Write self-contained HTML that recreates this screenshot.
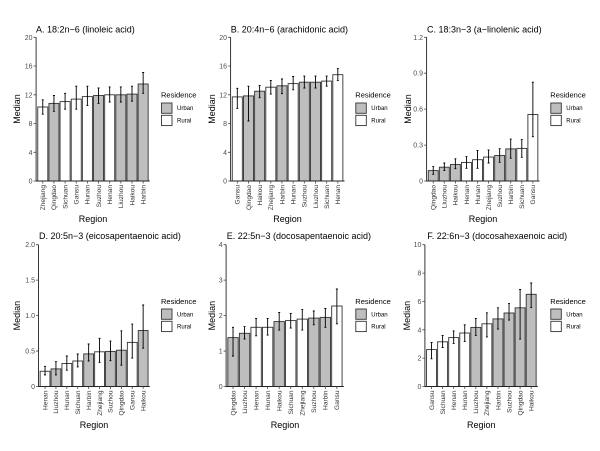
<!DOCTYPE html>
<html><head><meta charset="utf-8"><style>
html,body{margin:0;padding:0;background:#fff}
svg{display:block}
text{font-family:"Liberation Sans",sans-serif}
.t{font-size:9px;fill:#000}
.at{font-size:9px;fill:#000;text-anchor:middle}
.yl{font-size:7px;fill:#4d4d4d;text-anchor:end}
.xl{font-size:6.6px;fill:#333;text-anchor:end}
.lg{font-size:7.5px;fill:#000}
.lk{font-size:6px;fill:#000}
.u{fill:#bebebe;stroke:#333;stroke-width:0.9}
.r{fill:#fff;stroke:#333;stroke-width:0.9}
.e{fill:none;stroke:#000;stroke-width:0.9}
.ax{fill:none;stroke:#222;stroke-width:0.9}
.tk{fill:none;stroke:#444;stroke-width:0.8}
</style></head><body>
<svg width="600" height="451" viewBox="0 0 600 451" xmlns="http://www.w3.org/2000/svg">
<rect width="600" height="451" fill="#fff"/>

<!-- Panel A -->
<text class="t" x="36" y="32.5">A. 18:2n−6 (linoleic acid)</text>
<rect x="37.77" y="107" width="10.04" height="74" class="r"/>
<rect x="48.92" y="103.4" width="10.04" height="77.6" class="u"/>
<rect x="60.07" y="101.6" width="10.04" height="79.4" class="r"/>
<rect x="71.22" y="99.1" width="10.04" height="81.9" class="r"/>
<rect x="82.37" y="96.6" width="10.04" height="84.4" class="r"/>
<rect x="93.52" y="95.5" width="10.04" height="85.5" class="u"/>
<rect x="104.67" y="94.8" width="10.04" height="86.2" class="r"/>
<rect x="115.82" y="94.8" width="10.04" height="86.2" class="u"/>
<rect x="126.97" y="94.1" width="10.04" height="86.9" class="u"/>
<rect x="138.12" y="84" width="10.04" height="97" class="u"/>
<path class="e" d="M42.79 114.2V99.8M41.79 99.8h2M41.79 114.2h2M53.94 111.3V95.5M52.94 95.5h2M52.94 111.3h2M65.09 109.15V93.3M64.09 93.3h2M64.09 109.15h2M76.24 109.15V86.2M75.24 86.2h2M75.24 109.15h2M87.39 105.6V86.2M86.39 86.2h2M86.39 105.6h2M98.54 103.4V88M97.54 88h2M97.54 103.4h2M109.69 102V86.9M108.69 86.9h2M108.69 102h2M120.84 102V86.9M119.84 86.9h2M119.84 102h2M131.99 101.2V86.2M130.99 86.2h2M130.99 101.2h2M143.14 93.3V72.5M142.14 72.5h2M142.14 93.3h2"/>
<path class="ax" d="M36.1 37.3V181H149.8"/>
<path class="tk" d="M33.6 181H36.1M33.6 152.3H36.1M33.6 123.5H36.1M33.6 94.8H36.1M33.6 66H36.1M33.6 37.3H36.1M42.79 181v2.5M53.94 181v2.5M65.09 181v2.5M76.24 181v2.5M87.39 181v2.5M98.54 181v2.5M109.69 181v2.5M120.84 181v2.5M131.99 181v2.5M143.14 181v2.5"/>
<text class="yl" x="32.5" y="183.5">0</text><text class="yl" x="32.5" y="154.8">4</text><text class="yl" x="32.5" y="126">8</text><text class="yl" x="32.5" y="97.3">12</text><text class="yl" x="32.5" y="68.5">16</text><text class="yl" x="32.5" y="39.8">20</text>
<text class="xl" transform="translate(45.09,185) rotate(-90)">Zhejiang</text>
<text class="xl" transform="translate(56.24,185) rotate(-90)">Qingdao</text>
<text class="xl" transform="translate(67.39,185) rotate(-90)">Sichuan</text>
<text class="xl" transform="translate(78.54,185) rotate(-90)">Gansu</text>
<text class="xl" transform="translate(89.69,185) rotate(-90)">Hunan</text>
<text class="xl" transform="translate(100.84,185) rotate(-90)">Suzhou</text>
<text class="xl" transform="translate(111.99,185) rotate(-90)">Henan</text>
<text class="xl" transform="translate(123.14,185) rotate(-90)">Liuzhou</text>
<text class="xl" transform="translate(134.29,185) rotate(-90)">Haikou</text>
<text class="xl" transform="translate(145.44,185) rotate(-90)">Harbin</text>
<text class="at" transform="translate(20,109) rotate(-90)">Median</text>
<text class="at" x="93" y="222">Region</text>
<text class="lg" x="161" y="97.7">Residence</text>
<rect x="161.5" y="103" width="10.5" height="10.3" class="u"/>
<rect x="161.5" y="115.3" width="10.5" height="10.3" class="r"/>
<text class="lk" x="177" y="110.2">Urban</text>
<text class="lk" x="177" y="122.6">Rural</text>

<!-- Panel B -->
<text class="t" x="230.7" y="32.5">B. 20:4n−6 (arachidonic acid)</text>
<rect x="232.28" y="96.9" width="10.05" height="84.1" class="r"/>
<rect x="243.45" y="95.9" width="10.05" height="85.1" class="u"/>
<rect x="254.62" y="91.2" width="10.05" height="89.8" class="u"/>
<rect x="265.79" y="87.2" width="10.05" height="93.8" class="r"/>
<rect x="276.96" y="85.8" width="10.05" height="95.2" class="u"/>
<rect x="288.13" y="83.6" width="10.05" height="97.4" class="r"/>
<rect x="299.3" y="82.2" width="10.05" height="98.8" class="u"/>
<rect x="310.47" y="82.2" width="10.05" height="98.8" class="u"/>
<rect x="321.64" y="81.1" width="10.05" height="99.9" class="r"/>
<rect x="332.81" y="74.7" width="10.05" height="106.3" class="r"/>
<path class="e" d="M237.3 108.4V88.3M236.3 88.3h2M236.3 108.4h2M248.47 121V86.2M247.47 86.2h2M247.47 121h2M259.64 97.7V85.4M258.64 85.4h2M258.64 97.7h2M270.81 94.1V80.4M269.81 80.4h2M269.81 94.1h2M281.98 93.7V79M280.98 79h2M280.98 93.7h2M293.15 89.8V76.5M292.15 76.5h2M292.15 89.8h2M304.32 88V76.1M303.32 76.1h2M303.32 88h2M315.49 88V76.1M314.49 76.1h2M314.49 88h2M326.66 86.2V76.1M325.66 76.1h2M325.66 86.2h2M337.83 80.4V68.6M336.83 68.6h2M336.83 80.4h2"/>
<path class="ax" d="M230.6 37.3V181H344.5"/>
<path class="tk" d="M228.1 181H230.6M228.1 152.3H230.6M228.1 123.5H230.6M228.1 94.8H230.6M228.1 66H230.6M228.1 37.3H230.6M237.3 181v2.5M248.47 181v2.5M259.64 181v2.5M270.81 181v2.5M281.98 181v2.5M293.15 181v2.5M304.32 181v2.5M315.49 181v2.5M326.66 181v2.5M337.83 181v2.5"/>
<text class="yl" x="227" y="183.5">0</text><text class="yl" x="227" y="154.8">4</text><text class="yl" x="227" y="126">8</text><text class="yl" x="227" y="97.3">12</text><text class="yl" x="227" y="68.5">16</text><text class="yl" x="227" y="39.8">20</text>
<text class="xl" transform="translate(239.6,185) rotate(-90)">Gansu</text>
<text class="xl" transform="translate(250.77,185) rotate(-90)">Qingdao</text>
<text class="xl" transform="translate(261.94,185) rotate(-90)">Haikou</text>
<text class="xl" transform="translate(273.11,185) rotate(-90)">Zhejiang</text>
<text class="xl" transform="translate(284.28,185) rotate(-90)">Harbin</text>
<text class="xl" transform="translate(295.45,185) rotate(-90)">Hunan</text>
<text class="xl" transform="translate(306.62,185) rotate(-90)">Suzhou</text>
<text class="xl" transform="translate(317.79,185) rotate(-90)">Liuzhou</text>
<text class="xl" transform="translate(328.96,185) rotate(-90)">Sichuan</text>
<text class="xl" transform="translate(340.13,185) rotate(-90)">Henan</text>
<text class="at" transform="translate(215,109) rotate(-90)">Median</text>
<text class="at" x="287.5" y="222">Region</text>
<text class="lg" x="355.3" y="97.7">Residence</text>
<rect x="355.8" y="103" width="10.5" height="10.3" class="u"/>
<rect x="355.8" y="115.3" width="10.5" height="10.3" class="r"/>
<text class="lk" x="371.3" y="110.2">Urban</text>
<text class="lk" x="371.3" y="122.6">Rural</text>

<!-- Panel C -->
<text class="t" x="427" y="32.5">C. 18:3n−3 (a−linolenic acid)</text>
<rect x="428.26" y="170.6" width="9.96" height="10.4" class="u"/>
<rect x="439.33" y="167.2" width="9.96" height="13.8" class="u"/>
<rect x="450.4" y="164.5" width="9.96" height="16.5" class="u"/>
<rect x="461.47" y="162.4" width="9.96" height="18.6" class="r"/>
<rect x="472.54" y="159.7" width="9.96" height="21.3" class="r"/>
<rect x="483.61" y="157.05" width="9.96" height="23.95" class="r"/>
<rect x="494.68" y="155.5" width="9.96" height="25.5" class="u"/>
<rect x="505.75" y="148.9" width="9.96" height="32.1" class="u"/>
<rect x="516.82" y="148.4" width="9.96" height="32.6" class="r"/>
<rect x="527.89" y="114.5" width="9.96" height="66.5" class="r"/>
<path class="e" d="M433.24 174.3V166.6M432.24 166.6h2M432.24 174.3h2M444.31 170.6V163M443.31 163h2M443.31 170.6h2M455.38 168.7V158.8M454.38 158.8h2M454.38 168.7h2M466.45 168.3V156.6M465.45 156.6h2M465.45 168.3h2M477.52 168.3V150.5M476.52 150.5h2M476.52 168.3h2M488.59 163V149.9M487.59 149.9h2M487.59 163h2M499.66 162.3V148.7M498.66 148.7h2M498.66 162.3h2M510.73 158.2V139.1M509.73 139.1h2M509.73 158.2h2M521.8 157.3V139.6M520.8 139.6h2M520.8 157.3h2M532.87 136.7V82.2M531.87 82.2h2M531.87 136.7h2"/>
<path class="ax" d="M426.6 37.3V181H539.5"/>
<path class="tk" d="M424.1 181H426.6M424.1 145.1H426.6M424.1 109.15H426.6M424.1 73.2H426.6M424.1 37.3H426.6M433.24 181v2.5M444.31 181v2.5M455.38 181v2.5M466.45 181v2.5M477.52 181v2.5M488.59 181v2.5M499.66 181v2.5M510.73 181v2.5M521.8 181v2.5M532.87 181v2.5"/>
<text class="yl" x="423" y="183.5">0</text><text class="yl" x="423" y="147.6">0.3</text><text class="yl" x="423" y="111.65">0.6</text><text class="yl" x="423" y="75.7">0.9</text><text class="yl" x="423" y="39.8">1.2</text>
<text class="xl" transform="translate(435.54,185) rotate(-90)">Qingdao</text>
<text class="xl" transform="translate(446.61,185) rotate(-90)">Liuzhou</text>
<text class="xl" transform="translate(457.68,185) rotate(-90)">Haikou</text>
<text class="xl" transform="translate(468.75,185) rotate(-90)">Henan</text>
<text class="xl" transform="translate(479.82,185) rotate(-90)">Hunan</text>
<text class="xl" transform="translate(490.89,185) rotate(-90)">Zhejiang</text>
<text class="xl" transform="translate(501.96,185) rotate(-90)">Suzhou</text>
<text class="xl" transform="translate(513.03,185) rotate(-90)">Harbin</text>
<text class="xl" transform="translate(524.1,185) rotate(-90)">Sichuan</text>
<text class="xl" transform="translate(535.17,185) rotate(-90)">Gansu</text>
<text class="at" transform="translate(411,109) rotate(-90)">Median</text>
<text class="at" x="483" y="222">Region</text>
<text class="lg" x="550.3" y="97.7">Residence</text>
<rect x="550.8" y="103" width="10.5" height="10.3" class="u"/>
<rect x="550.8" y="115.3" width="10.5" height="10.3" class="r"/>
<text class="lk" x="566.3" y="110.2">Urban</text>
<text class="lk" x="566.3" y="122.6">Rural</text>

<!-- Panel D -->
<text class="t" x="39" y="239.2">D. 20:5n−3 (eicosapentaenoic acid)</text>
<rect x="40.14" y="371.26" width="9.81" height="15.24" class="r"/>
<rect x="51.04" y="368.9" width="9.81" height="17.6" class="u"/>
<rect x="61.94" y="363.5" width="9.81" height="23" class="r"/>
<rect x="72.84" y="361" width="9.81" height="25.5" class="r"/>
<rect x="83.74" y="353.9" width="9.81" height="32.6" class="u"/>
<rect x="94.64" y="351.8" width="9.81" height="34.7" class="r"/>
<rect x="105.54" y="351.4" width="9.81" height="35.1" class="u"/>
<rect x="116.44" y="350.2" width="9.81" height="36.3" class="u"/>
<rect x="127.34" y="342.4" width="9.81" height="44.1" class="r"/>
<rect x="138.24" y="330.5" width="9.81" height="56" class="u"/>
<path class="e" d="M45.04 374.87V366.3M44.04 366.3h2M44.04 374.87h2M55.94 374.9V361.7M54.94 361.7h2M54.94 374.9h2M66.84 370.2V356M65.84 356h2M65.84 370.2h2M77.74 366.9V354M76.74 354h2M76.74 366.9h2M88.64 361V344M87.64 344h2M87.64 361h2M99.54 362.4V338.3M98.54 338.3h2M98.54 362.4h2M110.44 360.7V341.1M109.44 341.1h2M109.44 360.7h2M121.34 365.2V330.8M120.34 330.8h2M120.34 365.2h2M132.24 358.1V324.1M131.24 324.1h2M131.24 358.1h2M143.14 348.2V305M142.14 305h2M142.14 348.2h2"/>
<path class="ax" d="M38.5 244.7V386.5H149.7"/>
<path class="tk" d="M36 386.5H38.5M36 351.05H38.5M36 315.6H38.5M36 280.15H38.5M36 244.7H38.5M45.04 386.5v2.5M55.94 386.5v2.5M66.84 386.5v2.5M77.74 386.5v2.5M88.64 386.5v2.5M99.54 386.5v2.5M110.44 386.5v2.5M121.34 386.5v2.5M132.24 386.5v2.5M143.14 386.5v2.5"/>
<text class="yl" x="35" y="389">0</text><text class="yl" x="35" y="353.55">0.5</text><text class="yl" x="35" y="318.1">1.0</text><text class="yl" x="35" y="282.65">1.5</text><text class="yl" x="35" y="247.2">2.0</text>
<text class="xl" transform="translate(47.34,390.5) rotate(-90)">Henan</text>
<text class="xl" transform="translate(58.24,390.5) rotate(-90)">Liuzhou</text>
<text class="xl" transform="translate(69.14,390.5) rotate(-90)">Hunan</text>
<text class="xl" transform="translate(80.04,390.5) rotate(-90)">Sichuan</text>
<text class="xl" transform="translate(90.94,390.5) rotate(-90)">Harbin</text>
<text class="xl" transform="translate(101.84,390.5) rotate(-90)">Zhejiang</text>
<text class="xl" transform="translate(112.74,390.5) rotate(-90)">Suzhou</text>
<text class="xl" transform="translate(123.64,390.5) rotate(-90)">Qingdao</text>
<text class="xl" transform="translate(134.54,390.5) rotate(-90)">Gansu</text>
<text class="xl" transform="translate(145.44,390.5) rotate(-90)">Haikou</text>
<text class="at" transform="translate(20,315.6) rotate(-90)">Median</text>
<text class="at" x="94" y="428">Region</text>
<text class="lg" x="161" y="304">Residence</text>
<rect x="161.5" y="309" width="10.5" height="10.3" class="u"/>
<rect x="161.5" y="321.3" width="10.5" height="10.3" class="r"/>
<text class="lk" x="177" y="316.3">Urban</text>
<text class="lk" x="177" y="328.6">Rural</text>

<!-- Panel E -->
<text class="t" x="226.7" y="239.2">E. 22:5n−3 (docosapentaenoic acid)</text>
<rect x="227.83" y="337.6" width="10.39" height="48.9" class="u"/>
<rect x="239.37" y="333.3" width="10.39" height="53.2" class="u"/>
<rect x="250.91" y="327.3" width="10.39" height="59.2" class="r"/>
<rect x="262.45" y="327.3" width="10.39" height="59.2" class="r"/>
<rect x="273.99" y="321.6" width="10.39" height="64.9" class="u"/>
<rect x="285.53" y="320.6" width="10.39" height="65.9" class="r"/>
<rect x="297.07" y="319.1" width="10.39" height="67.4" class="r"/>
<rect x="308.61" y="318.1" width="10.39" height="68.4" class="u"/>
<rect x="320.15" y="317.4" width="10.39" height="69.1" class="u"/>
<rect x="331.69" y="306" width="10.39" height="80.5" class="r"/>
<path class="e" d="M233.02 356V327.3M232.02 327.3h2M232.02 356h2M244.56 339V326.6M243.56 326.6h2M243.56 339h2M256.1 335.8V318.4M255.1 318.4h2M255.1 335.8h2M267.64 335.1V318.4M266.64 318.4h2M266.64 335.1h2M279.18 330.1V312.4M278.18 312.4h2M278.18 330.1h2M290.72 328V313.5M289.72 313.5h2M289.72 328h2M302.26 330.1V309.6M301.26 309.6h2M301.26 330.1h2M313.8 324.8V311M312.8 311h2M312.8 324.8h2M325.34 327.3V308.5M324.34 308.5h2M324.34 327.3h2M336.88 323.8V289M335.88 289h2M335.88 323.8h2"/>
<path class="ax" d="M226.1 244.7V386.5H343.8"/>
<path class="tk" d="M223.6 386.5H226.1M223.6 351.05H226.1M223.6 315.6H226.1M223.6 280.15H226.1M223.6 244.7H226.1M233.02 386.5v2.5M244.56 386.5v2.5M256.1 386.5v2.5M267.64 386.5v2.5M279.18 386.5v2.5M290.72 386.5v2.5M302.26 386.5v2.5M313.8 386.5v2.5M325.34 386.5v2.5M336.88 386.5v2.5"/>
<text class="yl" x="222.6" y="389">0</text><text class="yl" x="222.6" y="353.55">1</text><text class="yl" x="222.6" y="318.1">2</text><text class="yl" x="222.6" y="282.65">3</text><text class="yl" x="222.6" y="247.2">4</text>
<text class="xl" transform="translate(235.32,390.5) rotate(-90)">Qingdao</text>
<text class="xl" transform="translate(246.86,390.5) rotate(-90)">Liuzhou</text>
<text class="xl" transform="translate(258.4,390.5) rotate(-90)">Henan</text>
<text class="xl" transform="translate(269.94,390.5) rotate(-90)">Hunan</text>
<text class="xl" transform="translate(281.48,390.5) rotate(-90)">Haikou</text>
<text class="xl" transform="translate(293.02,390.5) rotate(-90)">Sichuan</text>
<text class="xl" transform="translate(304.56,390.5) rotate(-90)">Zhejiang</text>
<text class="xl" transform="translate(316.1,390.5) rotate(-90)">Suzhou</text>
<text class="xl" transform="translate(327.64,390.5) rotate(-90)">Harbin</text>
<text class="xl" transform="translate(339.18,390.5) rotate(-90)">Gansu</text>
<text class="at" transform="translate(215,315.6) rotate(-90)">Median</text>
<text class="at" x="285" y="428">Region</text>
<text class="lg" x="355.3" y="304">Residence</text>
<rect x="355.8" y="309" width="10.5" height="10.3" class="u"/>
<rect x="355.8" y="321.3" width="10.5" height="10.3" class="r"/>
<text class="lk" x="371.3" y="316.3">Urban</text>
<text class="lk" x="371.3" y="328.6">Rural</text>

<!-- Panel F -->
<text class="t" x="427.3" y="239.2">F. 22:6n−3 (docosahexaenoic acid)</text>
<rect x="426.56" y="349.6" width="9.96" height="36.9" class="r"/>
<rect x="437.63" y="341.8" width="9.96" height="44.7" class="r"/>
<rect x="448.7" y="337.6" width="9.96" height="48.9" class="r"/>
<rect x="459.77" y="333" width="9.96" height="53.5" class="r"/>
<rect x="470.84" y="327.4" width="9.96" height="59.1" class="u"/>
<rect x="481.91" y="323.8" width="9.96" height="62.7" class="r"/>
<rect x="492.98" y="318.9" width="9.96" height="67.6" class="u"/>
<rect x="504.05" y="313" width="9.96" height="73.5" class="u"/>
<rect x="515.12" y="307.8" width="9.96" height="78.7" class="u"/>
<rect x="526.19" y="294.3" width="9.96" height="92.2" class="u"/>
<path class="e" d="M431.54 358.85V342.5M430.54 342.5h2M430.54 358.85h2M442.61 347.5V335.45M441.61 335.45h2M441.61 347.5h2M453.68 343.4V330.9M452.68 330.9h2M452.68 343.4h2M464.75 341.4V324.8M463.75 324.8h2M463.75 341.4h2M475.82 335.45V318.4M474.82 318.4h2M474.82 335.45h2M486.89 336.9V312.8M485.89 312.8h2M485.89 336.9h2M497.96 329.1V307.8M496.96 307.8h2M496.96 329.1h2M509.03 320.1V303.55M508.03 303.55h2M508.03 320.1h2M520.1 339.1V289.5M519.1 289.5h2M519.1 339.1h2M531.17 307.4V283M530.17 283h2M530.17 307.4h2"/>
<path class="ax" d="M424.9 244.7V386.5H537.8"/>
<path class="tk" d="M422.4 386.5H424.9M422.4 358.1H424.9M422.4 329.8H424.9M422.4 301.4H424.9M422.4 273.1H424.9M422.4 244.7H424.9M431.54 386.5v2.5M442.61 386.5v2.5M453.68 386.5v2.5M464.75 386.5v2.5M475.82 386.5v2.5M486.89 386.5v2.5M497.96 386.5v2.5M509.03 386.5v2.5M520.1 386.5v2.5M531.17 386.5v2.5"/>
<text class="yl" x="421.4" y="389">0</text><text class="yl" x="421.4" y="360.6">2</text><text class="yl" x="421.4" y="332.3">4</text><text class="yl" x="421.4" y="303.9">6</text><text class="yl" x="421.4" y="275.6">8</text><text class="yl" x="421.4" y="247.2">10</text>
<text class="xl" transform="translate(433.84,390.5) rotate(-90)">Gansu</text>
<text class="xl" transform="translate(444.91,390.5) rotate(-90)">Sichuan</text>
<text class="xl" transform="translate(455.98,390.5) rotate(-90)">Henan</text>
<text class="xl" transform="translate(467.05,390.5) rotate(-90)">Hunan</text>
<text class="xl" transform="translate(478.12,390.5) rotate(-90)">Liuzhou</text>
<text class="xl" transform="translate(489.19,390.5) rotate(-90)">Zhejiang</text>
<text class="xl" transform="translate(500.26,390.5) rotate(-90)">Harbin</text>
<text class="xl" transform="translate(511.33,390.5) rotate(-90)">Suzhou</text>
<text class="xl" transform="translate(522.4,390.5) rotate(-90)">Qingdao</text>
<text class="xl" transform="translate(533.47,390.5) rotate(-90)">Haikou</text>
<text class="at" transform="translate(410,315.6) rotate(-90)">Median</text>
<text class="at" x="481.3" y="428">Region</text>
<text class="lg" x="550.3" y="304">Residence</text>
<rect x="550.8" y="309" width="10.5" height="10.3" class="u"/>
<rect x="550.8" y="321.3" width="10.5" height="10.3" class="r"/>
<text class="lk" x="566.3" y="316.3">Urban</text>
<text class="lk" x="566.3" y="328.6">Rural</text>
</svg>
</body></html>
